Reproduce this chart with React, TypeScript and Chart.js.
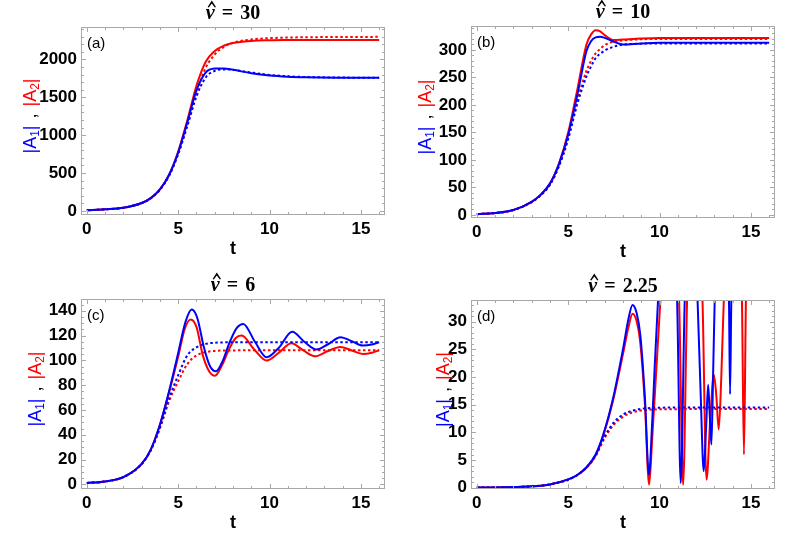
import { useEffect, useRef } from 'react';
import { Chart, registerables } from 'chart.js';

Chart.register(...registerables);

const BLUE = '#0000ff';
const RED = '#ff0000';
const SANS = '"Liberation Sans", Arial, sans-serif';
const SERIF = '"Liberation Serif", "Times New Roman", serif';

// shared x axis
const xTicks = [0, 5, 10, 15];

// (a) nu = 30
const tA = [0, 1, 2, 3, 3.5, 4, 4.5, 5, 5.5, 6, 6.5, 7, 7.5, 8, 9, 10, 11, 12, 14, 16];
const a1 = [10, 22, 42, 105, 170, 285, 475, 770, 1170, 1590, 1825, 1878, 1880, 1862, 1818, 1788, 1772, 1764, 1758, 1756];
const a2 = [10, 22, 42, 105, 170, 285, 478, 785, 1195, 1650, 1965, 2110, 2180, 2215, 2243, 2252, 2255, 2256, 2256, 2256];
const a1Dot = [10, 22, 42, 104, 168, 280, 465, 750, 1120, 1510, 1760, 1848, 1868, 1862, 1826, 1795, 1777, 1767, 1760, 1757];
const a2Dot = [10, 22, 42, 104, 168, 281, 468, 760, 1150, 1560, 1885, 2065, 2165, 2220, 2262, 2280, 2288, 2292, 2295, 2297];
const yTicksA = [0, 500, 1000, 1500, 2000];

// (b) nu = 10
const tB = [0, 1, 2, 3, 3.5, 4, 4.5, 5, 5.5, 6, 6.25, 6.5, 6.75, 7, 7.5, 8, 9, 10, 12, 16];
const b1 = [1.5, 3.5, 9, 24, 37, 57, 93, 146, 218, 298, 316, 323, 324, 322, 315, 310, 312, 313, 313, 313];
const b2 = [1.5, 3.5, 9, 24, 37, 57, 94, 150, 228, 310, 328, 336, 334, 327, 318, 319, 321, 322, 322, 322];
const b1Dot = [1.5, 3.5, 9, 23.5, 36, 55, 89, 138, 202, 252, 270, 285, 293, 299, 306, 309.5, 311.5, 312, 312, 312];
const b2Dot = [1.5, 3.5, 9, 23.5, 36, 55, 90, 141, 208, 262, 280, 294, 302, 309, 315, 317.5, 319.5, 320, 320, 320];
const yTicksB = [0, 50, 100, 150, 200, 250, 300];

// (c) nu = 6
const tC1 = [0, 1, 2, 3, 3.5, 4, 4.5, 5, 5.4, 5.74, 6.05, 6.4, 6.75, 7.07, 7.45, 7.8, 8.2, 8.56, 9.2, 9.84, 10.5, 11.24, 11.9, 12.57, 13.2, 13.88, 14.5, 15.11, 15.6, 16];
const c1 = [1, 2.3, 5.8, 16.5, 28, 48, 75, 106, 131, 141, 134, 111, 95, 91.2, 100, 114, 126, 129.4, 115, 102.5, 110, 123, 115, 108.7, 113, 118.7, 115.5, 111.9, 112.8, 114.6];
const tC2 = [0, 1, 2, 3, 3.5, 4, 4.5, 5, 5.35, 5.68, 6, 6.35, 6.7, 7.01, 7.4, 7.75, 8.15, 8.47, 9.15, 9.84, 10.5, 11.2, 11.85, 12.48, 13.2, 13.88, 14.5, 15.11, 15.6, 16];
const c2 = [1, 2.3, 5.8, 16.5, 28, 48, 74, 103, 125, 133, 127, 104, 91, 87.6, 96, 108, 118, 120, 109, 99.8, 106, 113.8, 108, 103.3, 107.5, 110.8, 108, 105.2, 106.2, 108.2];
const tCDot = [0, 1, 2, 3, 3.5, 4, 4.5, 5, 5.5, 6, 6.5, 7, 8, 10, 16];
const c1Dot = [1, 2.3, 5.8, 16.3, 27.5, 46, 69, 88, 104, 110.5, 113.3, 114.2, 114.6, 114.7, 114.7];
const c2Dot = [1, 2.3, 5.8, 16.3, 27.5, 45, 67, 83, 97, 104, 106.6, 107.6, 108, 108.2, 108.2];
const yTicksC = [0, 20, 40, 60, 80, 100, 120, 140];

// (d) nu = 2.25 (values above the frame are cut off by the plot range)
const tD1 = [0, 1, 2, 3, 4, 5, 5.5, 6, 6.5, 6.92, 7.46, 8.01, 8.3, 8.52, 8.75, 8.95, 9.2, 9.42, 9.6, 9.74, 9.92, 10.4, 10.96, 11.16, 11.38, 11.7, 12.08, 12.25, 12.42, 12.55, 12.66, 12.75, 12.84, 12.93, 13.02, 13.4, 13.8, 13.86, 13.93, 14.5, 16];
const d1 = [0.02, 0.05, 0.12, 0.25, 0.6, 1.5, 2.3, 3.7, 6.0, 9.6, 16.2, 25.2, 30.5, 33, 31.5, 27.5, 16.2, 2.35, 12, 22.2, 34, 60, 34, 0.85, 34, 60, 34, 17, 3, 11, 18.6, 13, 7.8, 20, 34, 60, 34, 16.9, 34, 60, 60];
const tD2 = [0, 1, 2, 3, 4, 5, 5.5, 6, 6.5, 6.92, 7.46, 8.01, 8.3, 8.52, 8.75, 8.95, 9.2, 9.43, 9.6, 9.8, 10.05, 10.5, 11.07, 11.29, 11.51, 11.9, 12.35, 12.57, 12.77, 12.97, 13.1, 13.24, 13.38, 13.52, 14, 14.51, 14.62, 14.73, 15.2, 16];
const d2 = [0.02, 0.05, 0.12, 0.25, 0.6, 1.5, 2.3, 3.6, 5.8, 9.4, 15.8, 24.3, 29, 31.4, 30, 26, 15, 0.55, 9, 20, 34, 60, 34, 0.55, 34, 60, 34, 1.45, 12, 20.4, 17, 10.5, 20, 34, 60, 34, 6, 34, 60, 60];
const tDDot = [0, 1, 2, 3, 4, 5, 5.5, 6, 6.5, 7, 7.5, 8, 8.5, 9, 10, 12, 16];
const d1Dot = [0.02, 0.05, 0.12, 0.25, 0.6, 1.45, 2.3, 3.7, 5.9, 9.3, 11.8, 13.2, 13.9, 14.25, 14.45, 14.5, 14.5];
const d2Dot = [0.02, 0.05, 0.12, 0.25, 0.6, 1.45, 2.3, 3.6, 5.7, 9.0, 11.4, 12.8, 13.6, 13.95, 14.15, 14.2, 14.2];
const yTicksD = [0, 5, 10, 15, 20, 25, 30];

type Series = { t: number[]; v: number[]; color: string; dotted?: boolean };

interface PanelProps {
  left: number;
  top: number;
  width: number;
  height: number;
  area: { left: number; top: number; right: number; bottom: number };
  yMin: number;
  yMax: number;
  yTicks: number[];
  yMinor: number;
  letter: string;
  nu: string;
  yLabelX: number;
  series: Series[];
}

const pts = (t: number[], v: number[]) => t.map((x, i) => ({ x, y: v[i] }));

function Panel(p: PanelProps) {
  const canvasRef = useRef<HTMLCanvasElement>(null);

  useEffect(() => {
    const ctx = canvasRef.current?.getContext('2d');
    if (!ctx) return;

    const decor = {
      id: 'decor',
      afterDraw(chart: any) {
        const c = chart.ctx as CanvasRenderingContext2D;
        const a = chart.chartArea;
        const xs = chart.scales.x;
        const ys = chart.scales.y;
        c.save();

        // frame + ticks, Mathematica style
        c.strokeStyle = '#a8a8a8';
        c.lineWidth = 1;
        c.strokeRect(a.left + 0.5, a.top + 0.5, a.right - a.left - 1, a.bottom - a.top - 1);
        c.beginPath();
        for (let t = 0; t <= 16; t++) {
          const px = Math.round(xs.getPixelForValue(t)) + 0.5;
          const len = t % 5 === 0 ? 5 : 3;
          c.moveTo(px, a.bottom); c.lineTo(px, a.bottom - len);
          c.moveTo(px, a.top); c.lineTo(px, a.top + len);
        }
        for (let v = 0; v <= p.yMax; v += p.yMinor) {
          const py = Math.round(ys.getPixelForValue(v)) + 0.5;
          const len = p.yTicks.includes(v) ? 5 : 3;
          c.moveTo(a.left, py); c.lineTo(a.left + len, py);
          c.moveTo(a.right, py); c.lineTo(a.right - len, py);
        }
        c.stroke();

        // panel letter
        c.fillStyle = '#000';
        c.font = `15px ${SANS}`;
        c.textAlign = 'left';
        c.textBaseline = 'alphabetic';
        c.fillText(p.letter, a.left + 6, a.top + 21);

        // title:  nu-hat = value
        const cx = (a.left + a.right) / 2;
        const base = a.top - 8;
        const nuFont = `italic bold 20px ${SERIF}`;
        const restFont = `bold 20px ${SERIF}`;
        const gap = 7;
        c.font = nuFont;
        const wNu = c.measureText('\u03BD').width;
        c.font = restFont;
        const wEq = c.measureText('=').width;
        const wVal = c.measureText(p.nu).width;
        const total0 = wNu + gap + wEq + gap + wVal;
        let x0 = cx - total0 / 2;
        c.font = nuFont;
        c.fillText('\u03BD', x0, base);
        const hx = x0 + wNu / 2 + 1.5;
        c.beginPath();
        c.moveTo(hx - 4.2, base - 12);
        c.lineTo(hx, base - 18.5);
        c.lineTo(hx + 4.2, base - 12);
        c.lineTo(hx + 3, base - 11.5);
        c.lineTo(hx, base - 15.5);
        c.lineTo(hx - 3, base - 11.5);
        c.closePath();
        c.fill();
        x0 += wNu + gap;
        c.font = restFont;
        c.fillText('=', x0, base);
        x0 += wEq + gap;
        c.fillText(p.nu, x0, base);

        // x label
        c.font = `bold 18px ${SANS}`;
        c.textAlign = 'center';
        c.fillText('t', cx, a.bottom + 39);

        // y label: |A1| , |A2|
        const parts = [
          { s: '|A', col: BLUE, sub: false, gap: 0 },
          { s: '1', col: BLUE, sub: true, gap: 0 },
          { s: '|', col: BLUE, sub: false, gap: 0 },
          { s: ',', col: '#000', sub: false, gap: 7 },
          { s: '|A', col: RED, sub: false, gap: 0 },
          { s: '2', col: RED, sub: true, gap: 0 },
          { s: '|', col: RED, sub: false, gap: 0 },
        ];
        const mainFont = `18px ${SANS}`;
        const subFont = `12px ${SANS}`;
        let total = 0;
        const widths = parts.map((q) => {
          c.font = q.sub ? subFont : mainFont;
          const w = c.measureText(q.s).width + 2 * q.gap;
          total += w;
          return w;
        });
        c.translate(p.yLabelX, (a.top + a.bottom) / 2 - 5);
        c.rotate(-Math.PI / 2);
        c.textAlign = 'left';
        let lx = -total / 2;
        parts.forEach((q, i) => {
          c.font = q.sub ? subFont : mainFont;
          c.fillStyle = q.col;
          c.fillText(q.s, lx + q.gap, q.sub ? 9.5 : 6.5);
          lx += widths[i];
        });
        c.restore();
      },
    };

    const tickFont = { family: SANS, size: 17, weight: 'bold' as const };
    const plain = (v: any) => String(v);

    const chart = new Chart(ctx, {
      type: 'line',
      data: {
        datasets: p.series.map((s) => ({
          data: pts(s.t, s.v),
          borderColor: s.color,
          borderWidth: 2,
          borderDash: s.dotted ? [2.5, 2.5] : [],
          pointRadius: 0,
          fill: false,
          cubicInterpolationMode: 'monotone' as const,
          clip: 0,
        })),
      },
      options: {
        animation: false,
        responsive: false,
        maintainAspectRatio: false,
        layout: { padding: { left: 0, top: p.area.top, right: p.width - p.area.right, bottom: 0 } },
        plugins: { legend: { display: false }, tooltip: { enabled: false }, title: { display: false } },
        scales: {
          x: {
            type: 'linear',
            min: -0.32,
            max: 16.32,
            afterBuildTicks: (s: any) => { s.ticks = xTicks.map((value) => ({ value })); },
            afterFit: (s: any) => { s.height = p.height - p.area.bottom; },
            grid: { display: false, drawTicks: false },
            border: { display: false },
            ticks: { padding: 4, color: '#000', font: tickFont, maxRotation: 0, autoSkip: false, callback: plain },
          },
          y: {
            type: 'linear',
            min: p.yMin,
            max: p.yMax,
            afterBuildTicks: (s: any) => { s.ticks = p.yTicks.map((value) => ({ value })); },
            afterFit: (s: any) => { s.width = p.area.left; },
            grid: { display: false, drawTicks: false },
            border: { display: false },
            ticks: { padding: 4, color: '#000', font: tickFont, autoSkip: false, callback: plain },
          },
        },
      },
      plugins: [decor],
    });

    return () => chart.destroy();
  }, []);

  return (
    <div style={{ position: 'absolute', left: p.left, top: p.top, width: p.width, height: p.height }}>
      <canvas ref={canvasRef} width={p.width} height={p.height} style={{ display: 'block' }} />
    </div>
  );
}

const panels: PanelProps[] = [
  {
    left: 0, top: 0, width: 390, height: 262,
    area: { left: 81, top: 27, right: 385, bottom: 215 },
    yMin: -53, yMax: 2427, yTicks: yTicksA, yMinor: 100,
    letter: '(a)', nu: '30', yLabelX: 29,
    series: [
      { t: tA, v: a1, color: BLUE },
      { t: tA, v: a1Dot, color: BLUE, dotted: true },
      { t: tA, v: a2, color: RED },
      { t: tA, v: a2Dot, color: RED, dotted: true },
    ],
  },
  {
    left: 390, top: 0, width: 399, height: 262,
    area: { left: 81, top: 26, right: 385, bottom: 218 },
    yMin: -5.5, yMax: 343.6, yTicks: yTicksB, yMinor: 10,
    letter: '(b)', nu: '10', yLabelX: 34.5,
    series: [
      { t: tB, v: b1, color: BLUE },
      { t: tB, v: b1Dot, color: BLUE, dotted: true },
      { t: tB, v: b2, color: RED },
      { t: tB, v: b2Dot, color: RED, dotted: true },
    ],
  },
  {
    left: 0, top: 262, width: 390, height: 271,
    area: { left: 81, top: 37, right: 385, bottom: 227 },
    yMin: -3.8, yMax: 149.5, yTicks: yTicksC, yMinor: 5,
    letter: '(c)', nu: '6', yLabelX: 34.5,
    series: [
      { t: tC1, v: c1, color: BLUE },
      { t: tCDot, v: c1Dot, color: BLUE, dotted: true },
      { t: tC2, v: c2, color: RED },
      { t: tCDot, v: c2Dot, color: RED, dotted: true },
    ],
  },
  {
    left: 390, top: 262, width: 399, height: 271,
    area: { left: 81, top: 38, right: 385, bottom: 227 },
    yMin: -0.23, yMax: 33.9, yTicks: yTicksD, yMinor: 1,
    letter: '(d)', nu: '2.25', yLabelX: 52,
    series: [
      { t: tD1, v: d1, color: BLUE },
      { t: tDDot, v: d1Dot, color: BLUE, dotted: true },
      { t: tD2, v: d2, color: RED },
      { t: tDDot, v: d2Dot, color: RED, dotted: true },
    ],
  },
];

export default function App() {
  return (
    <div style={{ position: 'absolute', left: 0, top: 0, width: 789, height: 533, background: '#fff', overflow: 'hidden' }}>
      {panels.map((p) => <Panel key={p.letter} {...p} />)}
    </div>
  );
}
